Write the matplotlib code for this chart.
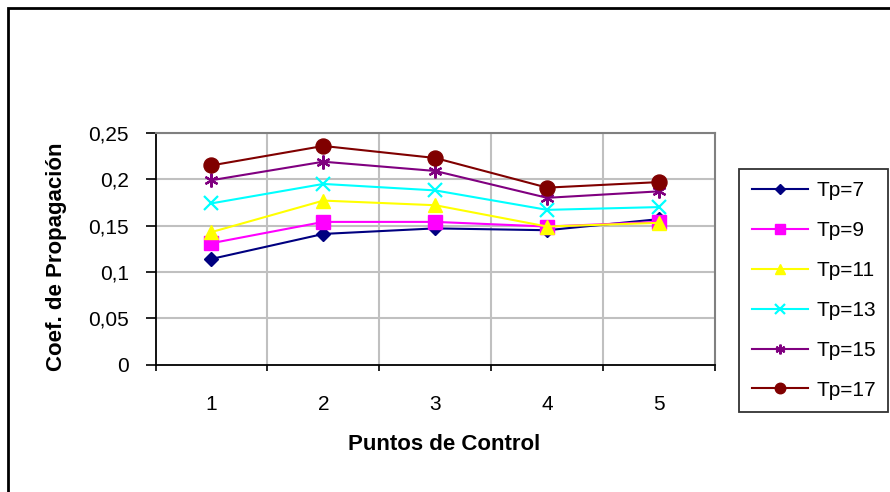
import matplotlib
matplotlib.use("Agg")
import matplotlib.pyplot as plt
from matplotlib.ticker import FuncFormatter, FixedLocator
from matplotlib.patches import Rectangle

plt.rcParams['font.family'] = ['Liberation Sans', 'DejaVu Sans']

puntos = [1, 2, 3, 4, 5]
tp7 = [0.114, 0.141, 0.147, 0.145, 0.157]
tp9 = [0.131, 0.154, 0.154, 0.149, 0.154]
tp11 = [0.143, 0.177, 0.172, 0.149, 0.153]
tp13 = [0.174, 0.195, 0.188, 0.167, 0.170]
tp15 = [0.199, 0.219, 0.209, 0.180, 0.187]
tp17 = [0.215, 0.236, 0.223, 0.191, 0.197]
series_labels = ['Tp=7', 'Tp=9', 'Tp=11', 'Tp=13', 'Tp=15', 'Tp=17']
y_ticks = [0, 0.05, 0.1, 0.15, 0.2, 0.25]

W, H = 890, 492
fig = plt.figure(figsize=(W / 100, H / 100), dpi=100)
L, R, T, B = 155.5, 715, 133, 364.5
ax = fig.add_axes([L / W, 1 - B / H, (R - L) / W, (B - T) / H])

styles = [
    dict(color='#000080', marker='D', markersize=7),
    dict(color='#FF00FF', marker='s', markersize=10.5),
    dict(color='#FFFF00', marker='^', markersize=10.5),
    dict(color='#00FFFF', marker='x', markersize=9.5, markeredgewidth=1.6),
    dict(color='#800080', marker=(6, 2, 0), markersize=10, markeredgewidth=1.6),
    dict(color='#800000', marker='o', markersize=10.8),
]
data = [tp7, tp9, tp11, tp13, tp15, tp17]
for vals, lab, st in zip(data, series_labels, styles):
    ax.plot(puntos, vals, label=lab, linewidth=1.5, **st)

ax.set_xlim(0.5, 5.5)
ax.set_ylim(0, 0.25)
ax.set_yticks(y_ticks)
ax.yaxis.set_major_formatter(FuncFormatter(lambda v, p: ('%g' % v).replace('.', ',')))
ax.set_xticks(puntos)
ax.set_xticklabels([str(p) for p in puntos])
ax.xaxis.set_minor_locator(FixedLocator([0.5, 1.5, 2.5, 3.5, 4.5, 5.5]))
ax.tick_params(axis='x', which='major', length=0, pad=22, labelsize=15)
ax.tick_params(axis='x', which='minor', length=4, width=1.2, direction='out', color='black')
ax.tick_params(axis='y', which='major', length=7, width=1.2, direction='out', pad=12, labelsize=15)

ax.grid(False)
for x in [1.5, 2.5, 3.5, 4.5]:
    ax.axvline(x, color='#C0C0C0', linewidth=1.5, zorder=0)
for y in y_ticks[1:]:
    ax.axhline(y, color='#C0C0C0', linewidth=1.5, zorder=0)

ax.spines['left'].set_color('black')
ax.spines['left'].set_linewidth(1.3)
ax.spines['bottom'].set_color('black')
ax.spines['bottom'].set_linewidth(1.3)
ax.spines['top'].set_color('#808080')
ax.spines['top'].set_linewidth(1.5)
ax.spines['right'].set_color('#808080')
ax.spines['right'].set_linewidth(1.5)

ax.set_xlabel('Puntos de Control', fontsize=16, fontweight='bold')
ax.set_ylabel('Coef. de Propagación', fontsize=16, fontweight='bold')
ax.xaxis.set_label_coords((444 - L) / (R - L), (B - 444) / (B - T))
ax.xaxis.label.set_va('center')
ax.yaxis.set_label_coords((57 - L) / (R - L), (B - 257) / (B - T))
ax.yaxis.label.set_va('center')

leg = fig.legend(loc='upper left', bbox_to_anchor=(739 / W, 1 - 169 / H), bbox_transform=fig.transFigure,
                 fontsize=15, frameon=True, fancybox=False, edgecolor='black', borderaxespad=0,
                 handlelength=2.7, handletextpad=0.4, labelspacing=1.0, borderpad=0.6,
                 markerscale=0.7)
leg.get_frame().set_linewidth(1.3)

fig.patches.append(Rectangle((8 / W, -0.1), 1.2, 1 - 8 / H + 0.1, transform=fig.transFigure,
                             fill=False, edgecolor='black', linewidth=2))

fig.savefig('out.png', dpi=100)
